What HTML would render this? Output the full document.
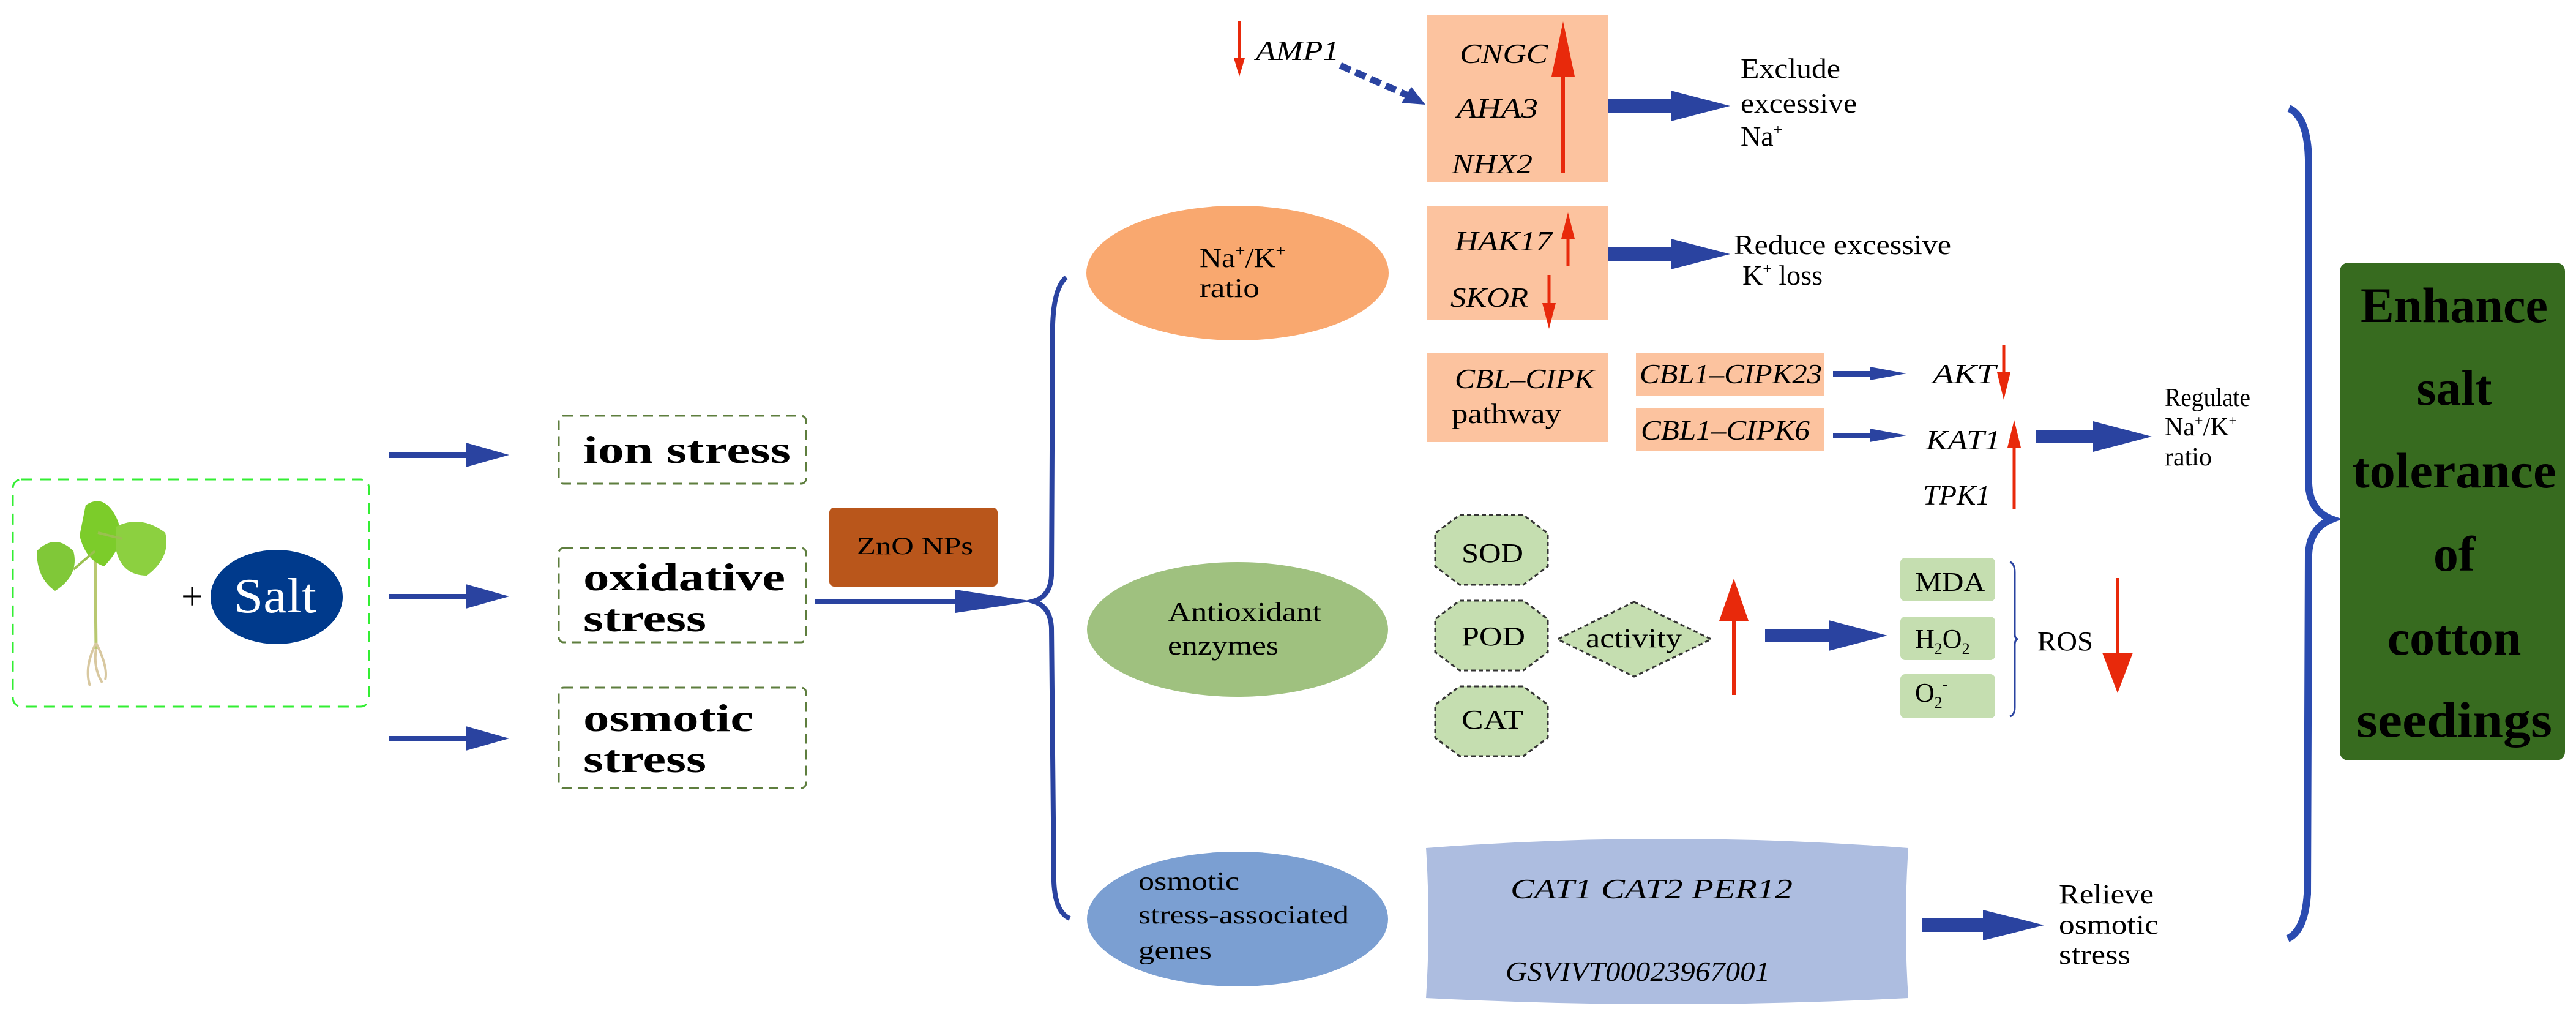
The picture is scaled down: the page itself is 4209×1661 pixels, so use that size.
<!DOCTYPE html>
<html><head><meta charset="utf-8"><style>html,body{margin:0;padding:0;background:#fff}svg{display:block}text{font-family:"Liberation Serif",serif}</style></head><body>
<svg width="4209" height="1661" viewBox="0 0 4209 1661" xmlns="http://www.w3.org/2000/svg">
<defs>
<g id="n"></g>
</defs>
<!-- plant box -->
<rect x="21" y="783" width="582" height="371" rx="14" fill="none" stroke="#33ee33" stroke-width="3" stroke-dasharray="18 12"/>
<!-- plant -->
<path d="M155 880 L157 1060" stroke="#b8c870" stroke-width="5" fill="none"/>
<path d="M157 1050 q-20 40 -10 70 M157 1050 q20 40 15 60 M157 1060 q-5 30 10 55" stroke="#d8c8a0" stroke-width="4" fill="none"/>
<path d="M140 825 q30 -20 50 20 q20 40 -20 80 q-30 -10 -40 -50 z" fill="#7ccc2a"/>
<path d="M190 860 q40 -20 80 10 q10 40 -30 70 q-40 0 -50 -40 z" fill="#8cd040"/>
<path d="M60 900 q30 -30 60 0 q10 40 -30 65 q-30 -20 -30 -65 z" fill="#80c838"/>
<path d="M155 900 L120 930 M160 870 L200 880" stroke="#9ac050" stroke-width="4"/>
<text x="296" y="995" font-size="64">+</text>
<ellipse cx="452" cy="975" rx="108" ry="77" fill="#003a8c"/>
<text x="382" y="1000" font-size="80" fill="#fff" textLength="135" lengthAdjust="spacingAndGlyphs">Salt</text>
<!-- stress arrows -->
<g fill="#2a43a0">
<rect x="635" y="739" width="130" height="9"/><polygon points="761,723 832,743 761,763"/>
<rect x="635" y="970" width="130" height="9"/><polygon points="761,954 832,974 761,994"/>
<rect x="635" y="1202" width="130" height="9"/><polygon points="761,1186 832,1206 761,1226"/>
</g>
<g fill="none" stroke="#5e7e3e" stroke-width="3" stroke-dasharray="16 10">
<rect x="913" y="679" width="404" height="111" rx="8"/>
<rect x="913" y="895" width="404" height="154" rx="8"/>
<rect x="913" y="1123" width="404" height="164" rx="8"/>
</g>
<g font-size="64" font-weight="bold">
<text x="953" y="756" textLength="339" lengthAdjust="spacingAndGlyphs">ion stress</text>
<text x="953" y="964" textLength="330" lengthAdjust="spacingAndGlyphs">oxidative</text>
<text x="953" y="1031" textLength="201" lengthAdjust="spacingAndGlyphs">stress</text>
<text x="953" y="1194" textLength="278" lengthAdjust="spacingAndGlyphs">osmotic</text>
<text x="953" y="1261" textLength="201" lengthAdjust="spacingAndGlyphs">stress</text>
</g>
<rect x="1355" y="829" width="275" height="129" rx="8" fill="#b9561b"/>
<text x="1400" y="905" font-size="40" textLength="190" lengthAdjust="spacingAndGlyphs">ZnO NPs</text>
<rect x="1332" y="979" width="235" height="7" fill="#2a43a0"/><polygon points="1561,963 1688,982 1561,1001" fill="#2a43a0"/>
<!-- left brace -->
<path d="M1742 453 Q1722 470 1720 530 L1718 940 Q1716 975 1688 982 Q1716 990 1718 1025 L1722 1440 Q1724 1490 1748 1500" fill="none" stroke="#2a43a0" stroke-width="8"/>
<!-- ellipses -->
<ellipse cx="2022" cy="446" rx="247" ry="110" fill="#f9a86f"/>
<text x="1960" y="436" font-size="44" textLength="141" lengthAdjust="spacingAndGlyphs">Na<tspan font-size="26" dy="-18">+</tspan><tspan dy="18">/K</tspan><tspan font-size="26" dy="-18">+</tspan></text>
<text x="1960" y="485" font-size="44" textLength="98" lengthAdjust="spacingAndGlyphs">ratio</text>
<ellipse cx="2022" cy="1028" rx="246" ry="110" fill="#9fc17f"/>
<text x="1908" y="1014" font-size="44" textLength="251" lengthAdjust="spacingAndGlyphs">Antioxidant</text>
<text x="1908" y="1069" font-size="44" textLength="181" lengthAdjust="spacingAndGlyphs">enzymes</text>
<ellipse cx="2022" cy="1501" rx="246" ry="110" fill="#7b9fd2"/>
<text x="1860" y="1453" font-size="42" textLength="165" lengthAdjust="spacingAndGlyphs">osmotic</text>
<text x="1860" y="1508" font-size="42" textLength="344" lengthAdjust="spacingAndGlyphs">stress-associated</text>
<text x="1860" y="1566" font-size="42" textLength="120" lengthAdjust="spacingAndGlyphs">genes</text>
<!-- peach boxes -->
<g fill="#fcc39f">
<rect x="2332" y="25" width="295" height="273"/>
<rect x="2332" y="336" width="295" height="187"/>
<rect x="2332" y="577" width="295" height="145"/>
<rect x="2673" y="576" width="308" height="71"/>
<rect x="2673" y="667" width="308" height="70"/>
</g>
<g font-size="46" font-style="italic">
<text x="2052" y="98" textLength="136" lengthAdjust="spacingAndGlyphs">AMP1</text>
<text x="2385" y="103" textLength="144" lengthAdjust="spacingAndGlyphs">CNGC</text>
<text x="2380" y="192" textLength="133" lengthAdjust="spacingAndGlyphs">AHA3</text>
<text x="2372" y="283" textLength="132" lengthAdjust="spacingAndGlyphs">NHX2</text>
<text x="2377" y="409" textLength="159" lengthAdjust="spacingAndGlyphs">HAK17</text>
<text x="2370" y="501" textLength="127" lengthAdjust="spacingAndGlyphs">SKOR</text>
<text x="2377" y="634" textLength="228" lengthAdjust="spacingAndGlyphs">CBL–CIPK</text>
<text x="2679" y="626" textLength="298" lengthAdjust="spacingAndGlyphs">CBL1–CIPK23</text>
<text x="2681" y="718" textLength="276" lengthAdjust="spacingAndGlyphs">CBL1–CIPK6</text>
<text x="3158" y="626" textLength="103" lengthAdjust="spacingAndGlyphs">AKT</text>
<text x="3147" y="734" textLength="122" lengthAdjust="spacingAndGlyphs">KAT1</text>
<text x="3142" y="824" textLength="110" lengthAdjust="spacingAndGlyphs">TPK1</text>
</g>
<text x="2372" y="691" font-size="46" textLength="179" lengthAdjust="spacingAndGlyphs">pathway</text>
<!-- dashed AMP1 arrow -->
<line x1="2190" y1="107" x2="2305" y2="158" stroke="#2a43a0" stroke-width="11" stroke-dasharray="18 9"/>
<polygon points="2329,171 2290,168 2306,142" fill="#2a43a0"/>
<!-- blue block arrows -->
<g fill="#2a43a0">
<rect x="2627" y="162" width="108" height="22"/><polygon points="2730,148 2827,173 2730,198"/>
<rect x="2627" y="404" width="108" height="22"/><polygon points="2730,390 2827,415 2730,440"/>
<rect x="2995" y="606" width="65" height="9"/><polygon points="3055,599 3115,610 3055,621"/>
<rect x="2995" y="707" width="65" height="9"/><polygon points="3055,700 3115,711 3055,722"/>
<rect x="3326" y="702" width="100" height="22"/><polygon points="3420,688 3516,713 3420,738"/>
<rect x="2884" y="1027" width="110" height="22"/><polygon points="2988,1013 3084,1038 2988,1063"/>
<rect x="3140" y="1500" width="105" height="22"/><polygon points="3240,1486 3340,1511 3240,1536"/>
</g>
<g font-size="46">
<text x="2844" y="127" textLength="163" lengthAdjust="spacingAndGlyphs">Exclude</text>
<text x="2844" y="184" textLength="190" lengthAdjust="spacingAndGlyphs">excessive</text>
<text x="2844" y="238">Na<tspan font-size="26" dy="-18">+</tspan></text>
<text x="2833" y="415" textLength="355" lengthAdjust="spacingAndGlyphs">Reduce excessive</text>
<text x="2847" y="465">K<tspan font-size="26" dy="-18">+</tspan><tspan dy="18"> loss</tspan></text>
<text x="3537" y="663" font-size="42" textLength="140" lengthAdjust="spacingAndGlyphs">Regulate</text>
<text x="3537" y="711" font-size="42">Na<tspan font-size="24" dy="-16">+</tspan><tspan dy="16">/K</tspan><tspan font-size="24" dy="-16">+</tspan></text>
<text x="3537" y="760" font-size="42">ratio</text>
</g>
<!-- red arrows -->
<g fill="#e8290b" stroke="#e8290b">
<line x1="2025" y1="35" x2="2025" y2="100" stroke-width="5"/><polygon points="2016,95 2034,95 2025,125" stroke="none"/>
<line x1="2554" y1="282" x2="2554" y2="110" stroke-width="6"/><polygon points="2535,125 2573,125 2554,35" stroke="none"/>
<line x1="2562" y1="434" x2="2562" y2="380" stroke-width="5"/><polygon points="2551,390 2573,390 2562,347" stroke="none"/>
<line x1="2531" y1="449" x2="2531" y2="500" stroke-width="5"/><polygon points="2520,495 2542,495 2531,537" stroke="none"/>
<line x1="3274" y1="564" x2="3274" y2="615" stroke-width="5"/><polygon points="3263,608 3285,608 3274,653" stroke="none"/>
<line x1="3291" y1="832" x2="3291" y2="720" stroke-width="5"/><polygon points="3280,731 3302,731 3291,686" stroke="none"/>
<line x1="2833" y1="1135" x2="2833" y2="1000" stroke-width="6"/><polygon points="2809,1014 2857,1014 2833,945" stroke="none"/>
<line x1="3460" y1="944" x2="3460" y2="1080" stroke-width="6"/><polygon points="3435,1066 3485,1066 3460,1132" stroke="none"/>
<line x1="3017" y1="1612" x2="3017" y2="1470" stroke-width="6"/><polygon points="2997,1490 3037,1490 3017,1420" stroke="none"/>
</g>
<!-- octagons and diamond -->
<g fill="#c5deb0" stroke="#333" stroke-width="3" stroke-dasharray="7 5">
<polygon points="2385,841 2489,841 2529,871 2529,925 2489,955 2385,955 2345,925 2345,871"/>
<polygon points="2385,981 2489,981 2529,1011 2529,1065 2489,1095 2385,1095 2345,1065 2345,1011"/>
<polygon points="2385,1121 2489,1121 2529,1151 2529,1205 2489,1235 2385,1235 2345,1205 2345,1151"/>
<polygon points="2670,983 2796,1044 2670,1105 2545,1044"/>
</g>
<g font-size="44">
<text x="2388" y="918" textLength="101" lengthAdjust="spacingAndGlyphs">SOD</text>
<text x="2388" y="1054" textLength="104" lengthAdjust="spacingAndGlyphs">POD</text>
<text x="2388" y="1190" textLength="101" lengthAdjust="spacingAndGlyphs">CAT</text>
<text x="2591" y="1057" textLength="157" lengthAdjust="spacingAndGlyphs">activity</text>
</g>
<g fill="#c5deb0">
<rect x="3105" y="911" width="155" height="71" rx="8"/>
<rect x="3105" y="1007" width="155" height="71" rx="8"/>
<rect x="3105" y="1101" width="155" height="72" rx="8"/>
</g>
<g font-size="44">
<text x="3129" y="965" textLength="115" lengthAdjust="spacingAndGlyphs">MDA</text>
<text x="3129" y="1058">H<tspan font-size="26" dy="10">2</tspan><tspan dy="-10">O</tspan><tspan font-size="26" dy="10">2</tspan></text>
<text x="3129" y="1146">O<tspan font-size="26" dy="10">2</tspan><tspan font-size="26" dy="-30">-</tspan></text>
<text x="3329" y="1062" textLength="91" lengthAdjust="spacingAndGlyphs">ROS</text>
</g>
<path d="M3284 918 Q3292 920 3292 935 L3292 1035 Q3292 1044 3298 1044 Q3292 1044 3292 1053 L3292 1155 Q3292 1168 3284 1170" fill="none" stroke="#2a43a0" stroke-width="3"/>
<!-- pillow -->
<path d="M2330 1385 Q2724 1355 3118 1385 Q3110 1508 3118 1630 Q2724 1650 2330 1630 Q2338 1508 2330 1385 Z" fill="#adbde0"/>
<g font-size="46" font-style="italic">
<text x="2468" y="1467" textLength="461" lengthAdjust="spacingAndGlyphs">CAT1  CAT2  PER12</text>
<text x="2460" y="1602" textLength="432" lengthAdjust="spacingAndGlyphs">GSVIVT00023967001</text>
</g>
<g font-size="44">
<text x="3364" y="1475" textLength="155" lengthAdjust="spacingAndGlyphs">Relieve</text>
<text x="3364" y="1525" textLength="163" lengthAdjust="spacingAndGlyphs">osmotic</text>
<text x="3364" y="1574" textLength="117" lengthAdjust="spacingAndGlyphs">stress</text>
</g>
<!-- right brace -->
<path d="M3740 177 Q3770 190 3772 260 L3772 790 Q3774 835 3810 848 Q3774 862 3772 905 L3770 1460 Q3766 1520 3738 1533" fill="none" stroke="#2a4bb0" stroke-width="12"/>
<!-- green box -->
<rect x="3823" y="429" width="368" height="813" rx="14" fill="#376b1f"/>
<g font-size="82" font-weight="bold" text-anchor="middle">
<text x="4010" y="526" textLength="306" lengthAdjust="spacingAndGlyphs">Enhance</text>
<text x="4010" y="661">salt</text>
<text x="4010" y="796" textLength="333" lengthAdjust="spacingAndGlyphs">tolerance</text>
<text x="4010" y="932">of</text>
<text x="4010" y="1069">cotton</text>
<text x="4010" y="1203" textLength="320" lengthAdjust="spacingAndGlyphs">seedings</text>
</g>
</svg>
</body></html>
